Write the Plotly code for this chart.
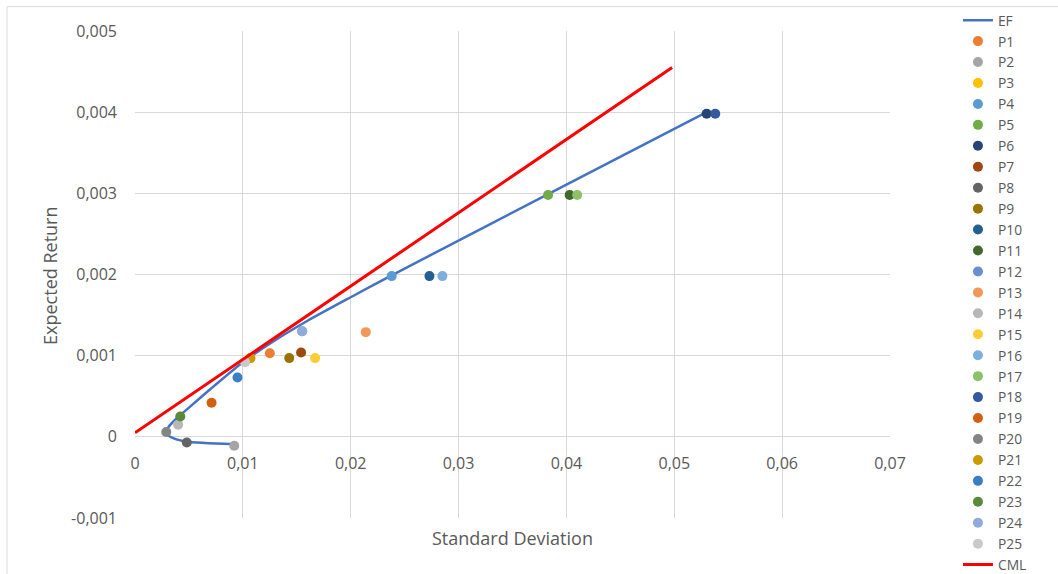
import plotly.graph_objects as go

# ---- data ----
portfolio_names = ["P%d" % i for i in range(1, 26)]
portfolio_sd = [0.0125, 0.0092, 0.0107, 0.0238, 0.0383, 0.0530, 0.0154, 0.0048, 0.0143,
                0.0273, 0.0403, 0.0155, 0.0214, 0.0040, 0.0167, 0.0285, 0.0410, 0.0538,
                0.0071, 0.0029, 0.0107, 0.0095, 0.0042, 0.0155, 0.0102]
portfolio_er = [0.00103, -0.00011, 0.00097, 0.00198, 0.00298, 0.00398, 0.00104, -0.00007, 0.00097,
                0.00198, 0.00298, 0.00130, 0.00129, 0.00015, 0.00097, 0.00198, 0.00298, 0.00398,
                0.00042, 0.00006, 0.00097, 0.00073, 0.00025, 0.00130, 0.00092]
portfolio_colors = ["#ED7D31", "#A5A5A5", "#FFC000", "#5B9BD5", "#70AD47", "#264478", "#9E480E",
                    "#636363", "#997300", "#255E91", "#43682B", "#698ED0", "#F1975A", "#B7B7B7",
                    "#FFCD33", "#7CAFDD", "#8CC168", "#335AA1", "#D26012", "#848484", "#CC9A00",
                    "#3A7EC6", "#5A8A39", "#8FAADC", "#C9C9C9"]

ef_sd = [0.0092, 0.0048, 0.0036, 0.0029, 0.0031, 0.0038, 0.0050, 0.0070, 0.0100, 0.0130,
         0.0160, 0.0200, 0.0238, 0.0383, 0.0530]
ef_er = [-0.00009, -0.00006, -0.00002, 0.00004, 0.00012, 0.00022, 0.00036, 0.00059, 0.00092,
         0.00119, 0.00143, 0.00172, 0.00199, 0.00299, 0.00400]

cml_sd = [0.0, 0.0498]
cml_er = [0.00005, 0.00455]

x_tickvals = [0, 0.01, 0.02, 0.03, 0.04, 0.05, 0.06, 0.07]
x_ticktext = ["0", "0,01", "0,02", "0,03", "0,04", "0,05", "0,06", "0,07"]
y_tickvals = [-0.001, 0, 0.001, 0.002, 0.003, 0.004, 0.005]
y_ticktext = ["-0,001", "0", "0,001", "0,002", "0,003", "0,004", "0,005"]

FONT = "Open Sans"
TXT = "#595959"
GRID = "#D9D9D9"

fig = go.Figure()
fig.add_trace(go.Scatter(x=ef_sd, y=ef_er, mode="lines", name="EF",
                         line=dict(color="#4472C4", width=2.5, shape="spline", smoothing=0.6)))
for n, xs, ys, c in zip(portfolio_names, portfolio_sd, portfolio_er, portfolio_colors):
    fig.add_trace(go.Scatter(x=[xs], y=[ys], mode="markers", name=n,
                             marker=dict(color=c, size=10, line=dict(width=0))))
fig.add_trace(go.Scatter(x=cml_sd, y=cml_er, mode="lines", name="CML",
                         line=dict(color="#FF0000", width=3)))

fig.update_layout(
    width=1058, height=574,
    margin=dict(l=135, r=168, t=31, b=56, autoexpand=False),
    paper_bgcolor="white", plot_bgcolor="white",
    font=dict(family=FONT, size=14, color=TXT),
    showlegend=True,
    legend=dict(x=1.09, xanchor="left", y=1.054, yanchor="top", maxheight=600,
                font=dict(family=FONT, size=13.8, color=TXT),
                bgcolor="rgba(0,0,0,0)", borderwidth=0, tracegroupgap=0),
    xaxis=dict(range=[0, 0.07], tickvals=x_tickvals, ticktext=x_ticktext,
               showgrid=True, gridcolor=GRID, gridwidth=1, zeroline=False,
               showline=False, ticks="", anchor="free", position=1/6,
               tickfont=dict(family=FONT, size=16, color=TXT), ticklabelstandoff=15,
               automargin=False, fixedrange=True),
    yaxis=dict(range=[-0.001, 0.005], tickvals=y_tickvals, ticktext=y_ticktext,
               showgrid=True, gridcolor=GRID, gridwidth=1, zeroline=False,
               showline=False, ticks="", tickfont=dict(family=FONT, size=16, color=TXT),
               ticklabelstandoff=17, automargin=False, fixedrange=True),
    annotations=[
        dict(text="Standard Deviation", xref="paper", yref="paper", x=0.5, y=-0.041,
             showarrow=False, xanchor="center", yanchor="middle",
             font=dict(family=FONT, size=18, color=TXT)),
        dict(text="Expected Return", xref="paper", yref="paper", x=-0.1126, y=0.497,
             showarrow=False, xanchor="center", yanchor="middle", textangle=-90,
             font=dict(family=FONT, size=18, color=TXT)),
    ],
    shapes=[
        dict(type="line", xref="paper", yref="paper", x0=-0.1695, x1=1.3, y0=1.05, y1=1.05,
             line=dict(color="#D9D9D9", width=1)),
        dict(type="line", xref="paper", yref="paper", x0=-0.1695, x1=-0.1695, y0=-0.2, y1=1.05,
             line=dict(color="#D9D9D9", width=1)),
    ],
)

fig.write_html("out.html")
